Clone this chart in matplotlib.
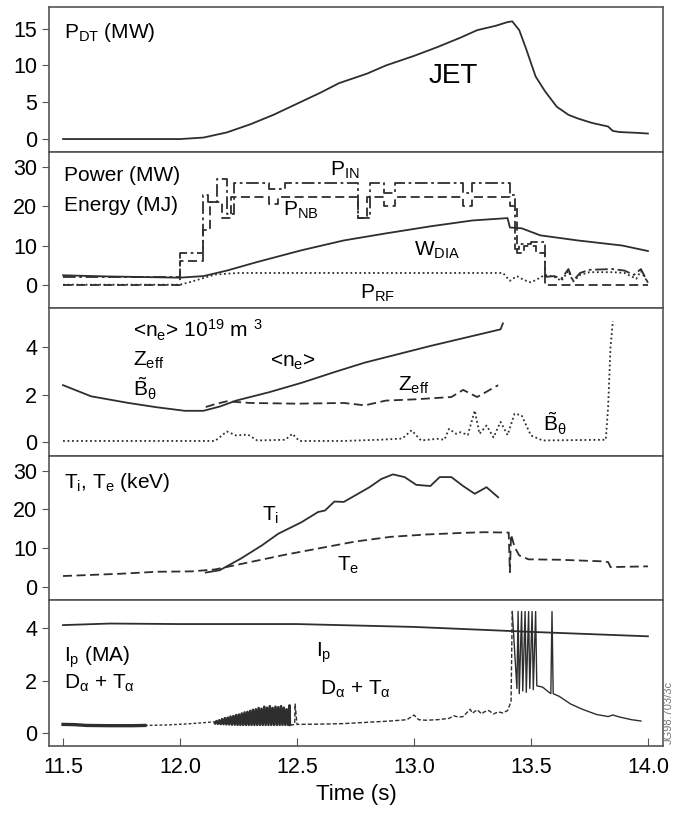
import matplotlib
matplotlib.use('Agg')
import matplotlib.pyplot as plt

plt.rcParams['font.family'] = ['Liberation Sans', 'DejaVu Sans']
plt.rcParams['mathtext.default'] = 'regular'

# --- data (time in s) ---
pdt_t = [11.5, 11.9, 12.0, 12.1, 12.2, 12.3, 12.4, 12.5, 12.6, 12.68, 12.8, 12.88, 13.0, 13.1,
         13.2, 13.27, 13.35, 13.4, 13.42, 13.45, 13.48, 13.52, 13.56, 13.61, 13.66, 13.7,
         13.76, 13.83, 13.85, 13.88, 13.95, 14.0]
pdt_v = [0, 0, 0.0, 0.2, 0.9, 2.0, 3.3, 4.8, 6.3, 7.6, 8.9, 10.0, 11.3, 12.5,
         13.8, 14.8, 15.4, 15.9, 16.0, 14.8, 12.2, 8.5, 6.5, 4.4, 3.3, 2.8,
         2.2, 1.7, 1.1, 0.95, 0.85, 0.75]

wdia_t = [11.5, 11.7, 11.9, 12.0, 12.1, 12.2, 12.33, 12.52, 12.7, 12.88, 13.07, 13.25, 13.4,
          13.41, 13.46, 13.54, 13.7, 13.89, 14.0]
wdia_v = [2.4, 2.1, 1.9, 1.8, 2.2, 3.6, 5.8, 8.8, 11.3, 13.1, 14.9, 16.4, 17.0,
          14.6, 14.4, 12.6, 11.3, 10.0, 8.6]

pnb_t = [11.5, 12.0, 12.1, 12.13, 12.18, 12.22, 12.38, 12.42, 12.76, 12.8, 12.87, 12.92,
         13.21, 13.25, 13.41, 13.44, 13.47, 13.52, 13.56, 14.0]
pnb_v = [0, 6, 14, 21, 17, 22.3, 20.5, 22.3, 17, 22.3, 20, 22.3,
         20, 22.3, 20, 8, 10, 8, 0, 0]

pin_t = [11.5, 12.0, 12.1, 12.12, 12.16, 12.2, 12.23, 12.38, 12.45, 12.76, 12.81, 12.87,
         12.92, 13.21, 13.25, 13.41, 13.43, 13.45, 13.5, 13.56]
pin_v = [2.0, 8, 23, 21, 27, 18, 26, 24.5, 26, 17, 26, 23.5,
         26, 23.5, 26, 23, 9, 10.5, 11, 2]
pin_tail_t = [13.56, 13.6, 13.63, 13.66, 13.68, 13.71, 13.75, 13.85, 13.9, 13.94, 13.97, 14.0]
pin_tail_v = [2.0, 2.2, 1.5, 4.0, 1.0, 3.0, 3.8, 4.0, 3.6, 2.5, 4.0, 0.5]

prf_t = [11.5, 12.0, 12.05, 12.15, 12.25, 13.38, 13.41, 13.44, 13.47, 13.5, 13.53, 13.56,
         13.6, 13.63, 13.66, 13.68, 13.71, 13.75, 13.85, 13.9, 13.95, 13.97, 14.0]
prf_v = [0, 0, 0.8, 2.6, 3.0, 3.0, 1.0, 2.2, 1.2, 0.6, 1.5, 2.5,
         2.0, 1.0, 3.5, 0.8, 2.5, 3.2, 3.2, 3.0, 1.5, 3.5, 0.5]

ne_t = [11.5, 11.62, 11.78, 11.9, 12.02, 12.1, 12.17, 12.24, 12.38, 12.52, 12.66, 12.79,
        12.93, 13.07, 13.22, 13.37, 13.38]
ne_v = [2.4, 1.93, 1.65, 1.47, 1.32, 1.32, 1.5, 1.75, 2.1, 2.5, 2.95, 3.35,
        3.7, 4.05, 4.4, 4.75, 5.0]

zeff_t = [12.11, 12.15, 12.2, 12.3, 12.5, 12.7, 12.79, 12.88, 13.0, 13.16, 13.21, 13.27, 13.36]
zeff_v = [1.48, 1.6, 1.72, 1.65, 1.62, 1.65, 1.55, 1.75, 1.8, 1.9, 2.2, 1.9, 2.4]

bth_t = [11.5, 12.15, 12.2, 12.24, 12.29, 12.33, 12.45, 12.48, 12.51, 12.7, 12.85, 12.95,
         12.99, 13.03, 13.1, 13.13, 13.15, 13.18, 13.2, 13.23, 13.26, 13.28, 13.31, 13.34,
         13.37, 13.4, 13.43, 13.46, 13.5, 13.55, 13.82, 13.83, 13.84, 13.85]
bth_v = [0.05, 0.05, 0.45, 0.28, 0.32, 0.07, 0.1, 0.35, 0.05, 0.05, 0.1, 0.15,
         0.5, 0.07, 0.14, 0.1, 0.56, 0.35, 0.42, 0.3, 1.33, 0.35, 0.7, 0.2,
         0.85, 0.3, 1.2, 1.13, 0.28, 0.07, 0.1, 1.5, 4.0, 5.1]

te_t = [11.5, 11.75, 11.9, 12.05, 12.15, 12.3, 12.45, 12.6, 12.75, 12.9, 13.05, 13.2, 13.3,
        13.4, 13.405, 13.41, 13.415, 13.43, 13.45, 13.49, 13.62, 13.8, 13.83, 13.84, 14.0]
te_v = [2.8, 3.4, 3.9, 4.0, 4.5, 6.4, 8.3, 10.0, 11.7, 12.9, 13.5, 13.9, 14.1,
        14.0, 14.0, 3.8, 13.5, 10.3, 8.1, 7.1, 7.0, 6.6, 6.4, 5.1, 5.3]

ti_t = [12.11, 12.17, 12.26, 12.35, 12.42, 12.52, 12.59, 12.62, 12.66, 12.7, 12.81, 12.86,
        12.91, 12.96, 13.01, 13.07, 13.11, 13.16, 13.21, 13.26, 13.31, 13.36]
ti_v = [3.7, 4.3, 7.3, 10.7, 13.7, 16.7, 19.3, 19.7, 22, 21.9, 25.7, 27.8,
        29, 28.3, 26.3, 26, 28.3, 28.3, 26, 24, 25.7, 23.1]

ip_t = [11.5, 11.7, 12.0, 12.5, 13.0, 13.5, 14.0]
ip_v = [4.13, 4.19, 4.17, 4.17, 4.06, 3.87, 3.70]

# D_alpha + T_alpha, split by how the trace is drawn
da_a_t = [11.5, 11.55, 11.6, 11.7, 11.8, 11.85]
da_a_v = [0.32, 0.31, 0.28, 0.27, 0.27, 0.28]
da_b_t = [11.85, 11.95, 12.05, 12.12, 12.15]
da_b_v = [0.28, 0.30, 0.35, 0.40, 0.42]
elm_t = [12.150, 12.156, 12.162, 12.168, 12.174, 12.180, 12.186, 12.192, 12.198, 12.204,
         12.210, 12.216, 12.222, 12.228, 12.234, 12.240, 12.246, 12.252, 12.258, 12.264,
         12.270, 12.276, 12.282, 12.288, 12.294, 12.300, 12.306, 12.312, 12.318, 12.324,
         12.330, 12.336, 12.342, 12.348, 12.354, 12.360, 12.366, 12.372, 12.378, 12.384,
         12.390, 12.396, 12.402, 12.408, 12.414, 12.420, 12.426, 12.432, 12.438, 12.444,
         12.450, 12.456, 12.462, 12.468, 12.470]
elm_v = [0.36, 0.45, 0.34, 0.48, 0.33, 0.52, 0.33, 0.56, 0.32, 0.58,
         0.32, 0.62, 0.31, 0.64, 0.31, 0.68, 0.30, 0.70, 0.30, 0.74,
         0.30, 0.78, 0.30, 0.80, 0.30, 0.84, 0.30, 0.88, 0.30, 0.90,
         0.30, 0.95, 0.30, 0.92, 0.30, 1.00, 0.30, 0.96, 0.30, 1.02,
         0.30, 0.95, 0.30, 1.00, 0.30, 0.98, 0.30, 1.02, 0.30, 0.96,
         0.30, 0.90, 0.30, 1.05, 0.30]
da_d_t = [12.47, 12.48, 12.49, 12.492, 12.5, 12.6, 12.7, 12.8, 12.9, 12.97, 13.0, 13.02,
          13.05, 13.1, 13.15, 13.17, 13.19, 13.21, 13.24, 13.25, 13.27, 13.29, 13.3, 13.32,
          13.34, 13.36, 13.38, 13.4, 13.415, 13.42]
da_d_v = [0.30, 0.30, 0.32, 1.1, 0.32, 0.33, 0.35, 0.40, 0.45, 0.50, 0.68, 0.50,
          0.48, 0.50, 0.55, 0.65, 0.60, 0.62, 0.90, 0.75, 0.88, 0.72, 0.80, 0.85,
          0.72, 0.80, 0.76, 0.85, 1.2, 4.65]
da_e_t = [13.42, 13.44, 13.445, 13.45, 13.46, 13.465, 13.475, 13.48, 13.49, 13.495, 13.505,
          13.51, 13.52, 13.525, 13.55, 13.57, 13.585, 13.59, 13.595, 13.62, 13.67, 13.72,
          13.78, 13.83, 13.85, 13.88, 13.93, 13.97]
da_e_v = [4.65, 1.7, 4.65, 1.5, 4.65, 1.6, 4.65, 1.55, 4.65, 1.7, 4.65,
          1.65, 4.65, 1.8, 1.75, 1.6, 1.5, 4.65, 1.5, 1.4, 1.1, 0.9,
          0.7, 0.62, 0.68, 0.6, 0.5, 0.45]

ink = '#2e2e2e'
lw = 1.3
dashed = (0, (5, 2.5))
dashdot = (0, (7, 2, 1.5, 2))
dotted = (0, (1, 1.5))

fig, axes = plt.subplots(5, 1, figsize=(6.73, 8.18), dpi=100, sharex=True,
                         gridspec_kw=dict(height_ratios=[145, 156, 148, 144, 146], hspace=0))
fig.subplots_adjust(left=0.0728, right=0.985, top=0.991, bottom=0.088)
ax1, ax2, ax3, ax4, ax5 = axes

# panel 1: fusion power
ax1.plot(pdt_t, pdt_v, color=ink, lw=lw)
ax1.set_ylim(-1.8, 17.9)
ax1.set_yticks([0, 5, 10, 15])
ax1.text(11.505, 14.5, 'P$_{DT}$ (MW)', fontsize=15, va='center')
ax1.text(13.17, 8.6, 'JET', fontsize=20, ha='center', va='center')

# panel 2: powers and stored energy
ax2.plot(wdia_t, wdia_v, color=ink, lw=lw)
ax2.plot(pnb_t, pnb_v, color=ink, lw=lw, ls=dashed, drawstyle='steps-post')
ax2.plot(pin_t, pin_v, color=ink, lw=lw, ls=dashdot, drawstyle='steps-post')
ax2.plot(pin_tail_t, pin_tail_v, color=ink, lw=lw, ls=dashdot)
ax2.plot(prf_t, prf_v, color=ink, lw=lw, ls=dotted)
ax2.set_ylim(-6, 33.8)
ax2.set_yticks([0, 10, 20, 30])
ax2.text(11.505, 27.9, 'Power (MW)', fontsize=15, va='center')
ax2.text(11.505, 20.2, 'Energy (MJ)', fontsize=15, va='center')
ax2.text(12.64, 29.1, 'P$_{IN}$', fontsize=15, va='center')
ax2.text(12.44, 19.0, 'P$_{NB}$', fontsize=15, va='center')
ax2.text(13.0, 8.75, 'W$_{DIA}$', fontsize=15, va='center')
ax2.text(12.77, -2.3, 'P$_{RF}$', fontsize=15, va='center')

# panel 3: density, Zeff, magnetic fluctuations
ax3.plot(ne_t, ne_v, color=ink, lw=lw)
ax3.plot(zeff_t, zeff_v, color=ink, lw=lw, ls=dashed)
ax3.plot(bth_t, bth_v, color=ink, lw=lw, ls=dotted)
ax3.set_ylim(-0.59, 5.64)
ax3.set_yticks([0, 2, 4])
ax3.text(11.80, 4.7, '<n$_e$> 10$^{19}$ m $^{3}$', fontsize=15, va='center')
ax3.text(11.80, 3.44, 'Z$_{eff}$', fontsize=15, va='center')
ax3.text(11.80, 2.25, r'$\tilde{B}_\theta$', fontsize=15, va='center')
ax3.text(12.385, 3.37, '<n$_e$>', fontsize=15, va='center')
ax3.text(12.93, 2.39, 'Z$_{eff}$', fontsize=15, va='center')
ax3.text(13.55, 0.77, r'$\tilde{B}_\theta$', fontsize=15, va='center')

# panel 4: temperatures
ax4.plot(ti_t, ti_v, color=ink, lw=lw)
ax4.plot(te_t, te_v, color=ink, lw=lw, ls=dashed)
ax4.set_ylim(-3.4, 33.7)
ax4.set_yticks([0, 10, 20, 30])
ax4.text(11.505, 27.0, 'T$_i$, T$_e$ (keV)', fontsize=15, va='center')
ax4.text(12.35, 18.4, 'T$_i$', fontsize=15, va='center')
ax4.text(12.67, 5.6, 'T$_e$', fontsize=15, va='center')

# panel 5: plasma current and D-alpha
ax5.plot(ip_t, ip_v, color=ink, lw=lw)
ax5.plot(da_a_t, da_a_v, color=ink, lw=2.4)
ax5.plot(da_b_t, da_b_v, color=ink, lw=1.0, ls=(0, (2, 1.5)))
ax5.plot(elm_t, elm_v, color=ink, lw=1.8)
ax5.plot(da_d_t, da_d_v, color=ink, lw=1.0, ls=(0, (3, 1.5)))
ax5.plot(da_e_t, da_e_v, color=ink, lw=1.0)
ax5.set_ylim(-0.51, 5.09)
ax5.set_yticks([0, 2, 4])
ax5.text(11.505, 2.9, 'I$_p$ (MA)', fontsize=15, va='center')
ax5.text(11.505, 1.9, r'D$_\alpha$ + T$_\alpha$', fontsize=15, va='center')
ax5.text(12.58, 3.05, 'I$_p$', fontsize=15, va='center')
ax5.text(12.6, 1.65, r'D$_\alpha$ + T$_\alpha$', fontsize=15, va='center')

ax5.set_xlim(11.44, 14.064)
ax5.set_xticks([11.5, 12.0, 12.5, 13.0, 13.5, 14.0])
ax5.set_xticklabels(['11.5', '12.0', '12.5', '13.0', '13.5', '14.0'])
ax5.set_xlabel('Time (s)', fontsize=16)

for ax in axes:
    for sp in ax.spines.values():
        sp.set_color('#555555')
        sp.set_linewidth(1.2)
    ax.tick_params(axis='y', direction='out', length=5, labelsize=15.5, color='#555555')
    ax.tick_params(axis='x', bottom=False, labelbottom=False)
ax5.tick_params(axis='x', bottom=True, labelbottom=True, direction='in', length=6,
                labelsize=15.5, color='#555555', pad=8)

# figure reference number, tucked against the right edge
fig.text(0.9865, 0.09, 'JG98.703/3c', rotation=90, fontsize=8, color='#777777',
         ha='left', va='bottom')

fig.savefig('out.png', dpi=100)
